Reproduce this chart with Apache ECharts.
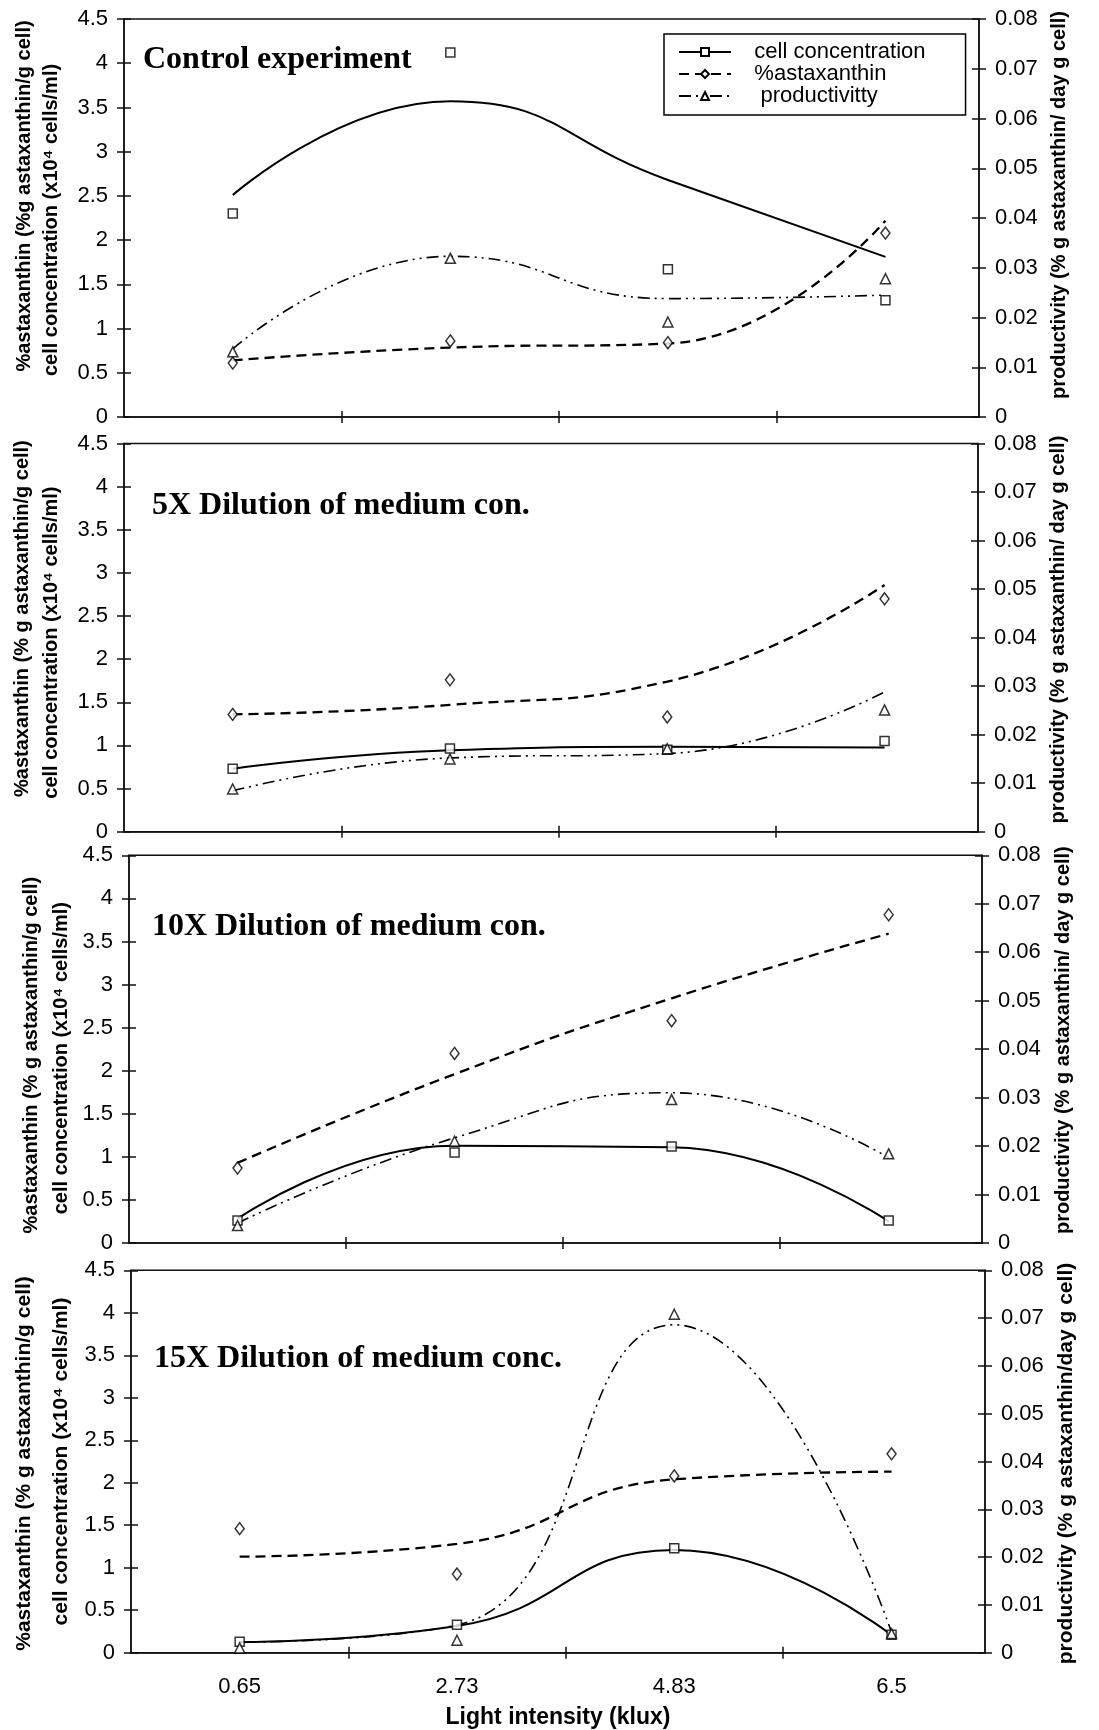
<!DOCTYPE html>
<html><head><meta charset="utf-8">
<script src="https://cdn.jsdelivr.net/npm/echarts@6/dist/echarts.min.js"></script>
<style>html,body{margin:0;padding:0;background:#fff}#c{width:1099px;height:1730px}</style>
</head><body><div id="c"></div>
<script>
// ---------------- data ----------------
const categories = ['0.65', '2.73', '4.83', '6.5'];
const seriesNames = ['cell concentration', '%astaxanthin', 'productivitty'];
const panelTitles = ['Control experiment', '5X Dilution of medium con.', '10X Dilution of medium con.', '15X Dilution of medium conc.'];
const leftNames1 = ['%astaxanthin (%g astaxanthin/g cell)', '%astaxanthin (% g astaxanthin/g cell)', '%astaxanthin (% g astaxanthin/g cell)', '%astaxanthin (% g astaxanthin/g cell)'];
const leftNames2 = ['cell concentration (x10\u2074 cells/ml)', 'cell concentration (x10\u2074 cells/ml)', 'cell concentration (x10\u2074 cells/ml)', 'cell concentration (x10\u2074 cells/ml)'];
const rightNames = ['productivity (% g astaxanthin/ day g cell)', 'productivity (% g astaxanthin/ day g cell)', 'productivity (% g astaxanthin/ day g cell)', 'productivity (% g astaxanthin/day g cell)'];
const xAxisName = 'Light intensity (klux)';

// Control experiment
const ctrlCellPts  = [2.30, 4.12, 1.67, 1.32];
const ctrlAstaxPts = [0.61, 0.86, 0.84, 2.08];
const ctrlProdPts  = [0.0131, 0.0319, 0.0191, 0.0278];
const ctrlCellFit  = [2.51, 3.57, 2.68, 1.81];
const ctrlAstaxFit = [0.64, 0.785, 0.83, 2.22];
const ctrlProdFit  = [0.0137, 0.0323, 0.0238, 0.0245];
// 5X dilution
const d5CellPts  = [0.73, 0.965, 0.95, 1.05];
const d5AstaxPts = [1.36, 1.76, 1.33, 2.70];
const d5ProdPts  = [0.0088, 0.0150, 0.0171, 0.0251];
const d5CellFit  = [0.73, 0.945, 0.985, 0.975];
const d5AstaxFit = [1.36, 1.47, 1.74, 2.86];
const d5ProdFit  = [0.0084, 0.0152, 0.0161, 0.0288];
// 10X dilution
const d10CellPts  = [0.26, 1.05, 1.12, 0.26];
const d10AstaxPts = [0.87, 2.20, 2.58, 3.81];
const d10ProdPts  = [0.0036, 0.0210, 0.0296, 0.0184];
const d10CellFit  = [0.28, 1.13, 1.11, 0.25];
const d10AstaxFit = [0.93, 1.96, 2.84, 3.59];
const d10ProdFit  = [0.0041, 0.0217, 0.0310, 0.0176];
// 15X dilution
const d15CellPts  = [0.13, 0.33, 1.23, 0.21];
const d15AstaxPts = [1.46, 0.925, 2.08, 2.34];
const d15ProdPts  = [0.0010, 0.0026, 0.0708, 0.0040];
const d15CellFit  = [0.126, 0.315, 1.21, 0.205];
const d15AstaxFit = [1.13, 1.28, 2.04, 2.13];
const d15ProdFit  = [0.0022, 0.0058, 0.0686, 0.0043];

const panelPts = [
  [ctrlCellPts, ctrlAstaxPts, ctrlProdPts],
  [d5CellPts, d5AstaxPts, d5ProdPts],
  [d10CellPts, d10AstaxPts, d10ProdPts],
  [d15CellPts, d15AstaxPts, d15ProdPts]
];
const panelFits = [
  [ctrlCellFit, ctrlAstaxFit, ctrlProdFit],
  [d5CellFit, d5AstaxFit, d5ProdFit],
  [d10CellFit, d10AstaxFit, d10ProdFit],
  [d15CellFit, d15AstaxFit, d15ProdFit]
];

// ---------------- layout / style ----------------
const SANS = '"Liberation Sans", Arial, sans-serif';
const SERIF = '"Liberation Serif", "Times New Roman", serif';
const AX = '#111';
const layout = [
  {left: 124, right: 979, top: 19,    bottom: 417,   tx: 143, ty: 58.5, g1: 90, s1: 22, g2: 63, s2: -2, gr: 64, sr: 13, lf: 20},
  {left: 124, right: 978, top: 443.5, bottom: 831.7, tx: 152, ty: 505,  g1: 92, s1: 19, g2: 63, s2: -5, gr: 64, sr: 8,  lf: 20},
  {left: 129, right: 982, top: 855.3, bottom: 1243,  tx: 152, ty: 926,  g1: 88, s1: -6, g2: 58, s2: -9, gr: 70, sr: 9,  lf: 20},
  {left: 131, right: 985, top: 1270.3, bottom: 1652.7, tx: 154, ty: 1358, g1: 97, s1: -2, g2: 60, s2: 0, gr: 68, sr: -2, lf: 21}
];
const XMIN = -0.5, XMAX = 3.43;
const TICKFONT = 22;
const symbols = ['rect', 'diamond', 'triangle'];
const symbolSizes = [9, [9, 12], [10, 10]];
const lineStyles = [
  {color: '#000', width: 2, type: 'solid'},
  {color: '#000', width: 2.3, type: [10, 6]},
  {color: '#000', width: 1.6, type: [12, 5, 2, 5, 2, 5]}
];
const pad = s => s >= 0 ? [0, 0, 0, 2 * s] : [0, -2 * s, 0, 0];

const grid = [], xAxis = [], yAxis = [], series = [], title = [];
layout.forEach((L, i) => {
  grid.push({left: L.left, top: L.top, width: L.right - L.left, height: L.bottom - L.top,
    show: true, borderColor: AX, borderWidth: 1.5, backgroundColor: 'transparent', containLabel: false});
  const last = i === layout.length - 1;
  xAxis.push({type: 'value', gridIndex: i, min: XMIN, max: XMAX, position: 'bottom',
    axisLine: {show: true, onZero: false, lineStyle: {color: AX, width: 1.5}},
    axisTick: {show: true, customValues: [0.5, 1.5, 2.5], length: 6, lineStyle: {color: AX, width: 1.5}},
    axisLabel: {show: last, customValues: [0, 1, 2, 3], formatter: v => categories[Math.round(v)],
      fontFamily: SANS, fontSize: TICKFONT, color: '#000', margin: 23},
    splitLine: {show: false},
    name: last ? xAxisName : '', nameLocation: 'middle', nameGap: 53,
    nameTextStyle: {fontFamily: SANS, fontWeight: 'bold', fontSize: 23, color: '#000'}});
  xAxis.push({type: 'value', gridIndex: i, min: XMIN, max: XMAX, position: 'bottom',
    axisLine: {show: false, onZero: false},
    axisTick: {show: true, inside: true, customValues: [0.5, 1.5, 2.5], length: 6, lineStyle: {color: AX, width: 1.5}},
    axisLabel: {show: false}, splitLine: {show: false}});
  const nameStyle = (s, lh) => ({fontFamily: SANS, fontWeight: 'bold', fontSize: L.lf, color: '#000', lineHeight: lh, padding: pad(s)});
  yAxis.push({type: 'value', gridIndex: i, position: 'left', min: 0, max: 4.5, interval: 0.5,
    axisLine: {show: true, onZero: false, lineStyle: {color: AX, width: 1.5}},
    axisTick: {show: true, length: 7, lineStyle: {color: AX, width: 1.5}},
    axisLabel: {fontFamily: SANS, fontSize: TICKFONT, color: '#000', margin: 16},
    splitLine: {show: false},
    name: leftNames1[i], nameLocation: 'middle', nameRotate: 90, nameGap: L.g1, nameTextStyle: nameStyle(L.s1, 20)});
  yAxis.push({type: 'value', gridIndex: i, position: 'left', min: 0, max: 4.5, interval: 0.5,
    axisLine: {show: false, onZero: false},
    axisTick: {show: true, inside: true, length: 7, lineStyle: {color: AX, width: 1.5}},
    axisLabel: {show: false}, splitLine: {show: false},
    name: leftNames2[i], nameLocation: 'middle', nameRotate: 90, nameGap: L.g2, nameTextStyle: nameStyle(L.s2, 20)});
  yAxis.push({type: 'value', gridIndex: i, position: 'right', min: 0, max: 0.08, interval: 0.01,
    axisLine: {show: true, onZero: false, lineStyle: {color: AX, width: 1.5}},
    axisTick: {show: true, length: 7, lineStyle: {color: AX, width: 1.5}},
    axisLabel: {fontFamily: SANS, fontSize: TICKFONT, color: '#000', margin: 16},
    splitLine: {show: false},
    name: rightNames[i], nameLocation: 'middle', nameRotate: 90, nameGap: L.gr, nameTextStyle: nameStyle(L.sr, 22)});
  yAxis.push({type: 'value', gridIndex: i, position: 'right', min: 0, max: 0.08, interval: 0.01,
    axisLine: {show: false, onZero: false},
    axisTick: {show: true, inside: true, length: 7, lineStyle: {color: AX, width: 1.5}},
    axisLabel: {show: false}, splitLine: {show: false}});
  title.push({text: panelTitles[i], left: L.tx, top: L.ty - 15, padding: 0,
    textStyle: {fontFamily: SERIF, fontWeight: 'bold', fontSize: 32, color: '#000'}});

  for (let k = 0; k < 3; k++) {
    const yIdx = k === 2 ? 4 * i + 2 : 4 * i;
    series.push({type: 'line', name: seriesNames[k], xAxisIndex: 2 * i, yAxisIndex: yIdx,
      data: panelFits[i][k].map((v, j) => [j, v]), smooth: 0.5,
      symbol: symbols[k], symbolSize: 9, showSymbol: false, silent: true,
      lineStyle: lineStyles[k], itemStyle: {color: '#fff', borderColor: '#000', borderWidth: 1.3}, z: 2});
  }
  for (let k = 0; k < 3; k++) {
    const yIdx = k === 2 ? 4 * i + 2 : 4 * i;
    series.push({type: 'scatter', name: seriesNames[k], xAxisIndex: 2 * i, yAxisIndex: yIdx,
      data: panelPts[i][k].map((v, j) => [j, v]),
      symbol: symbols[k], symbolSize: symbolSizes[k], silent: true,
      itemStyle: {color: '#fff', borderColor: '#000', borderWidth: 1.5}, z: 3});
  }
});

const chart = echarts.init(document.getElementById('c'), null, {renderer: 'canvas', width: 1099, height: 1730});
chart.setOption({
  animation: false,
  backgroundColor: '#fff',
  title: title,
  legend: {data: seriesNames, orient: 'vertical', left: 664, top: 34,
    padding: [7, 40, 8, 14], itemGap: 0, itemWidth: 52, itemHeight: 10,
    borderColor: '#000', borderWidth: 1.5, backgroundColor: '#fff',
    formatter: n => (n === 'productivitty' ? '    ' : '   ') + n,
    textStyle: {fontFamily: SANS, fontSize: 22, lineHeight: 19, color: '#000'}},
  grid: grid, xAxis: xAxis, yAxis: yAxis, series: series
});
</script></body></html>
